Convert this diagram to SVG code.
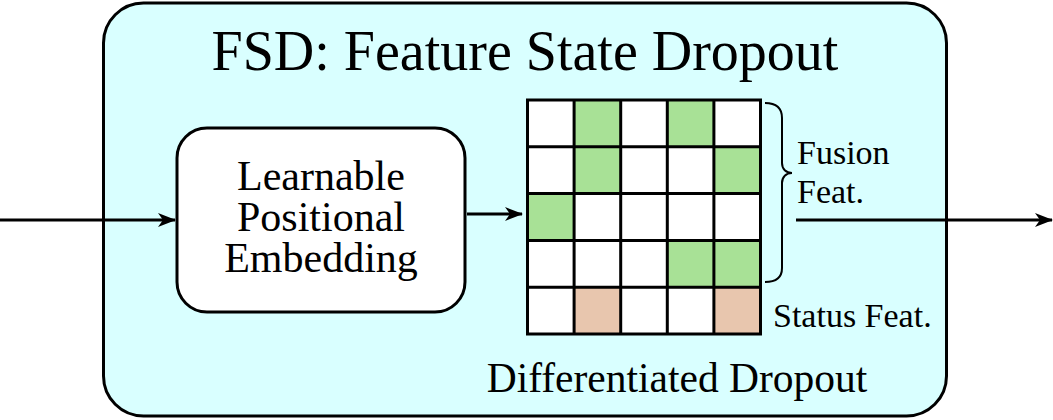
<svg xmlns="http://www.w3.org/2000/svg" width="1053" height="420" viewBox="0 0 1053 420">
<defs>
<style>
.t{font-family:"Liberation Serif","Times New Roman",serif;fill:#000}
.ln{stroke:#000;stroke-width:3;fill:none}
.g{fill:#A8E196}
.p{fill:#E8C6AE}
</style>
<marker id="ah" viewBox="0 0 18 14" refX="17" refY="7" markerWidth="18" markerHeight="14" markerUnits="userSpaceOnUse" orient="auto">
<path d="M0,0 L18,7 L0,14 L5,7 Z" fill="#000"/>
</marker>
</defs>
<rect width="1053" height="420" fill="#fff"/>
<g id="fsd">
<rect x="103.5" y="3" width="843" height="413" rx="40" ry="40" fill="#D9FFFF" stroke="#000" stroke-width="3"/>
<text class="t" x="525" y="70" font-size="56" text-anchor="middle">FSD: Feature State Dropout</text>
</g>
<g id="lpe">
<rect x="177" y="128" width="288" height="184" rx="30" ry="30" fill="#fff" stroke="#000" stroke-width="3"/>
<text class="t" font-size="42" text-anchor="middle"><tspan x="321" y="190">Learnable</tspan><tspan x="321" y="231">Positional</tspan><tspan x="321" y="272">Embedding</tspan></text>
</g>
<g id="grid">
<rect x="527.5" y="100" width="233" height="234" fill="#fff"/>
<rect class="g" x="574.1" y="100" width="46.6" height="46.8"/>
<rect class="g" x="667.3" y="100" width="46.6" height="46.8"/>
<rect class="g" x="574.1" y="146.8" width="46.6" height="46.8"/>
<rect class="g" x="713.9" y="146.8" width="46.6" height="46.8"/>
<rect class="g" x="527.5" y="193.6" width="46.6" height="46.8"/>
<rect class="g" x="667.3" y="240.4" width="46.6" height="46.8"/>
<rect class="g" x="713.9" y="240.4" width="46.6" height="46.8"/>
<rect class="p" x="574.1" y="287.2" width="46.6" height="46.8"/>
<rect class="p" x="713.9" y="287.2" width="46.6" height="46.8"/>
<path class="ln" d="M574.1,100V334M620.7,100V334M667.3,100V334M713.9,100V334M527.5,146.8H760.5M527.5,193.6H760.5M527.5,240.4H760.5M527.5,287.2H760.5"/>
<rect x="527.5" y="100" width="233" height="234" fill="none" stroke="#000" stroke-width="3"/>
<text class="t" x="677" y="392" font-size="41.5" text-anchor="middle">Differentiated Dropout</text>
</g>
<g id="labels">
<path d="M765,103 C776,103 782,108 782,118 L782,163 C782,169 786,173 792,173 C786,173 782,177 782,183 L782,268 C782,277 776,282 765,282" fill="none" stroke="#000" stroke-width="2"/>
<text class="t" font-size="34"><tspan x="797" y="164">Fusion</tspan><tspan x="797" y="203">Feat.</tspan></text>
<text class="t" x="773" y="327" font-size="34">Status Feat.</text>
</g>
<g id="connectors">
<line class="ln" x1="0" y1="220" x2="175" y2="220" marker-end="url(#ah)"/>
<line class="ln" x1="467" y1="214" x2="522" y2="214" marker-end="url(#ah)"/>
<line class="ln" x1="796" y1="220" x2="1052" y2="220" marker-end="url(#ah)"/>
</g>
</svg>
